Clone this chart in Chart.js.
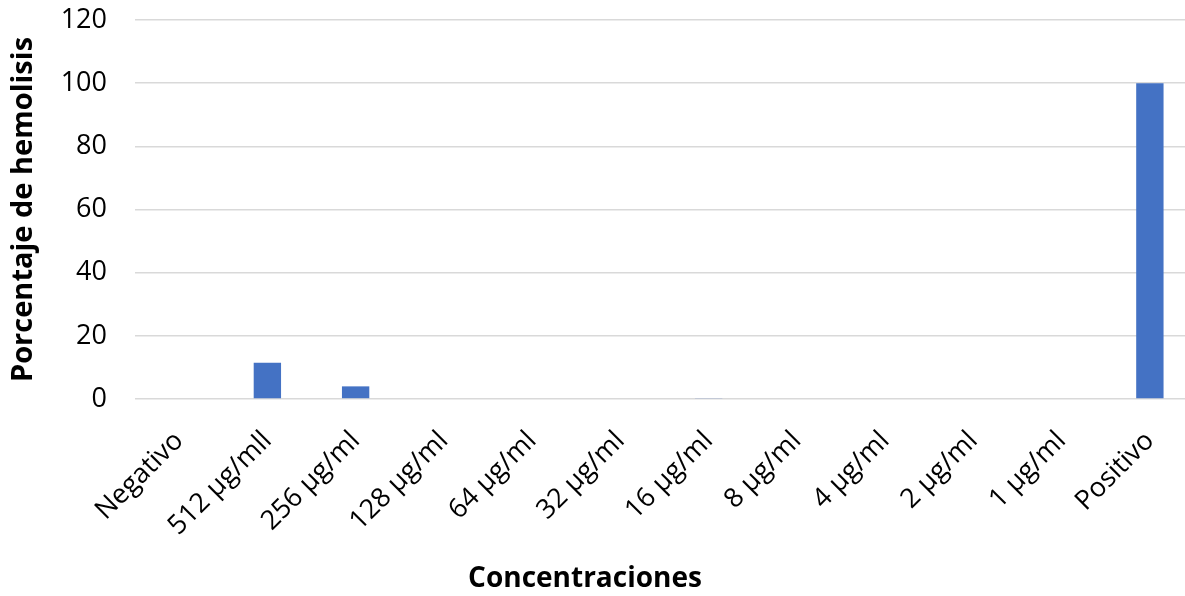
<!DOCTYPE html>
<html>
<head>
<meta charset="utf-8">
<script src="https://cdn.jsdelivr.net/npm/chart.js@4.4.1/dist/chart.umd.min.js"></script>
<style>
  html, body { margin: 0; padding: 0; background: #ffffff; overflow: hidden; }
  #wrap { width: 1195px; height: 596px; }
</style>
</head>
<body>
<div id="wrap"><canvas id="c" width="1195" height="596"></canvas></div>
<script>
// Hemolysis percentage per concentration
const categories = ['Negativo', '512 µg/mll', '256 µg/ml', '128 µg/ml', '64 µg/ml', '32 µg/ml',
  '16 µg/ml', '8 µg/ml', '4 µg/ml', '2 µg/ml', '1 µg/ml', 'Positivo'];
const hemolisis = [0, 11.5, 4, 0, 0, 0, 0.3, 0, 0, 0, 0, 100];
const yTicks = [0, 20, 40, 60, 80, 100, 120];

const FONT = "'Open Sans', 'Liberation Sans', sans-serif";
const TEXT = '#000000';

// x-axis title, centred under the labels
const xTitle = {
  id: 'xTitle',
  afterDraw(chart) {
    const ctx = chart.ctx;
    ctx.save();
    ctx.font = 'bold 28px ' + FONT;
    ctx.fillStyle = TEXT;
    ctx.textAlign = 'center';
    ctx.textBaseline = 'middle';
    ctx.fillText('Concentraciones', 585, 579);
    ctx.restore();
  }
};

function noPadding(scale) {
  scale.paddingTop = 0;
  scale.paddingBottom = 0;
  scale.paddingLeft = 0;
  scale.paddingRight = 0;
}

new Chart(document.getElementById('c'), {
  type: 'bar',
  data: {
    labels: categories,
    datasets: [{
      data: hemolisis,
      backgroundColor: '#4472C4',
      borderColor: '#4472C4',
      borderWidth: 0,
      categoryPercentage: 1,
      barPercentage: 0.31
    }]
  },
  options: {
    responsive: false,
    animation: false,
    layout: { padding: { top: 20, right: 1, left: 0, bottom: 0 } },
    plugins: { legend: { display: false }, tooltip: { enabled: false } },
    scales: {
      x: {
        grid: { display: false, drawTicks: false },
        border: { display: false },
        ticks: {
          color: TEXT,
          font: { family: FONT, size: 27 },
          minRotation: 45,
          maxRotation: 45,
          padding: 26,
          autoSkip: false
        },
        afterFit(scale) { scale.height = 197; noPadding(scale); }
      },
      y: {
        min: 0,
        max: 120,
        afterBuildTicks(scale) { scale.ticks = yTicks.map(v => ({ value: v })); },
        grid: { color: '#d9d9d9', lineWidth: 1.6, drawTicks: false },
        border: { display: false },
        ticks: {
          color: TEXT,
          font: { family: FONT, size: 27 },
          padding: 28
        },
        title: {
          display: true,
          text: 'Porcentaje de hemolisis',
          color: TEXT,
          font: { family: FONT, size: 29, weight: 'bold' },
          padding: { top: 6, bottom: 0 }
        },
        afterFit(scale) { scale.width = 135; noPadding(scale); }
      }
    }
  },
  plugins: [xTitle]
});
</script>
</body>
</html>
